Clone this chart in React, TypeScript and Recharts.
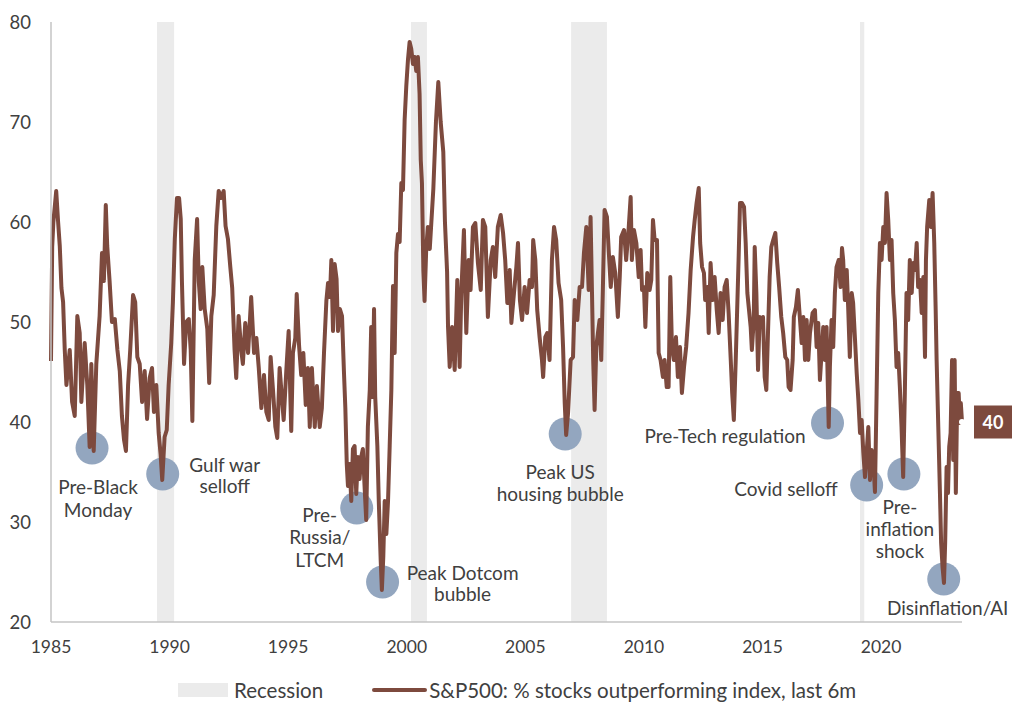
import React from 'react';
import { LineChart, Line, Scatter, XAxis, YAxis, ReferenceArea, Legend } from 'recharts';

// ---------- DATA ----------
const dates = [
  1985.00, 1985.05, 1985.10, 1985.22, 1985.30, 1985.37, 1985.44, 1985.51, 1985.58, 1985.65,
  1985.79, 1985.89, 1986.00, 1986.11, 1986.21, 1986.28, 1986.42, 1986.53, 1986.63, 1986.70,
  1986.80, 1986.91, 1987.05, 1987.15, 1987.23, 1987.31, 1987.37, 1987.47, 1987.57, 1987.69,
  1987.80, 1987.90, 1987.99, 1988.08, 1988.16, 1988.25, 1988.34, 1988.46, 1988.55, 1988.64,
  1988.74, 1988.84, 1988.95, 1989.05, 1989.16, 1989.26, 1989.34, 1989.44, 1989.54, 1989.62,
  1989.69, 1989.79, 1989.88, 1989.96, 1990.07, 1990.14, 1990.22, 1990.31, 1990.40, 1990.47,
  1990.52, 1990.61, 1990.70, 1990.81, 1990.89, 1990.96, 1991.06, 1991.16, 1991.23, 1991.31,
  1991.38, 1991.48, 1991.59, 1991.67, 1991.76, 1991.86, 1991.97, 1992.07, 1992.18, 1992.28,
  1992.36, 1992.46, 1992.56, 1992.64, 1992.74, 1992.81, 1992.91, 1993.02,
  1993.09, 1993.19, 1993.31, 1993.44, 1993.56, 1993.66, 1993.76, 1993.87, 1993.98, 1994.08,
  1994.18, 1994.26, 1994.36, 1994.46, 1994.54, 1994.64, 1994.71, 1994.81, 1994.92, 1995.02,
  1995.13, 1995.20, 1995.30, 1995.36, 1995.46, 1995.55, 1995.64, 1995.74, 1995.83, 1995.91,
  1996.00, 1996.12, 1996.21, 1996.33, 1996.42, 1996.51, 1996.61, 1996.68, 1996.76, 1996.82,
  1996.89, 1996.96, 1997.04, 1997.10, 1997.18, 1997.27, 1997.35, 1997.41, 1997.47, 1997.52,
  1997.59, 1997.66, 1997.73, 1997.80, 1997.87, 1997.94, 1998.01, 1998.08, 1998.15, 1998.22,
  1998.29, 1998.36, 1998.44, 1998.50, 1998.56, 1998.62, 1998.67, 1998.76, 1998.82, 1998.90,
  1998.95, 1999.01, 1999.07, 1999.14, 1999.21, 1999.28, 1999.35, 1999.42, 1999.49, 1999.56,
  1999.63, 1999.70, 1999.77, 1999.84, 1999.91, 1999.98, 2000.05, 2000.12, 2000.19, 2000.26,
  2000.33, 2000.40, 2000.47, 2000.54, 2000.59, 2000.64, 2000.70, 2000.75, 2000.82, 2000.89,
  2000.97, 2001.12, 2001.23, 2001.33, 2001.43, 2001.54, 2001.61, 2001.70,
  2001.74, 2001.81, 2001.91, 2002.02, 2002.13, 2002.23, 2002.30, 2002.41, 2002.51, 2002.61,
  2002.69, 2002.79, 2002.89, 2003.00, 2003.12, 2003.21, 2003.31, 2003.42, 2003.54, 2003.63,
  2003.73, 2003.84, 2003.96, 2004.06, 2004.15, 2004.24, 2004.34, 2004.41, 2004.52, 2004.62,
  2004.69, 2004.77, 2004.86, 2004.97, 2005.07, 2005.18, 2005.28, 2005.33, 2005.42, 2005.50,
  2005.60, 2005.70, 2005.75, 2005.84, 2005.92, 2006.02, 2006.12, 2006.21, 2006.30, 2006.40,
  2006.51, 2006.59, 2006.66, 2006.72, 2006.80, 2006.91, 2007.01, 2007.08, 2007.19, 2007.29,
  2007.39, 2007.47, 2007.57, 2007.67, 2007.75, 2007.81, 2007.86, 2007.92, 2007.99, 2008.06,
  2008.13, 2008.20, 2008.27, 2008.34, 2008.44, 2008.52, 2008.60, 2008.69, 2008.79,
  2008.90, 2008.98, 2009.04, 2009.16, 2009.25, 2009.36, 2009.44, 2009.49, 2009.58, 2009.68,
  2009.78, 2009.86, 2009.92, 2010.00, 2010.06, 2010.14, 2010.24, 2010.31, 2010.38, 2010.45,
  2010.55, 2010.62, 2010.70, 2010.80, 2010.87, 2010.96, 2011.04, 2011.11, 2011.18, 2011.26,
  2011.35, 2011.43, 2011.52, 2011.60, 2011.69, 2011.78, 2011.88, 2011.97, 2012.07, 2012.14,
  2012.22, 2012.31, 2012.37, 2012.45, 2012.53, 2012.58, 2012.67, 2012.73, 2012.81, 2012.90,
  2012.98, 2013.07, 2013.15, 2013.23, 2013.32, 2013.40, 2013.49, 2013.57, 2013.66, 2013.72,
  2013.79, 2013.87, 2013.93, 2013.99, 2014.05, 2014.13, 2014.22, 2014.29, 2014.36, 2014.43,
  2014.50, 2014.55, 2014.63, 2014.67, 2014.74, 2014.81, 2014.88, 2014.95, 2015.02, 2015.09,
  2015.16, 2015.23, 2015.30, 2015.37, 2015.45, 2015.54, 2015.62, 2015.70, 2015.79, 2015.87,
  2015.96, 2016.04, 2016.10, 2016.18, 2016.27, 2016.32, 2016.41, 2016.49,
  2016.65, 2016.72, 2016.79, 2016.86, 2016.93, 2017.00, 2017.11, 2017.21, 2017.28, 2017.35,
  2017.42, 2017.49, 2017.56, 2017.63, 2017.70, 2017.79, 2017.84, 2017.91, 2017.98, 2018.05,
  2018.12, 2018.21, 2018.29, 2018.35, 2018.40, 2018.47, 2018.55, 2018.61, 2018.68, 2018.76,
  2018.82, 2018.90, 2018.97, 2019.04, 2019.11, 2019.18, 2019.25, 2019.32, 2019.39, 2019.46,
  2019.53, 2019.60, 2019.67, 2019.74, 2019.81, 2019.88, 2019.95, 2020.02, 2020.09, 2020.16,
  2020.23, 2020.30, 2020.37, 2020.44, 2020.51, 2020.58, 2020.65, 2020.72, 2020.79, 2020.86,
  2020.93, 2021.00, 2021.07, 2021.14, 2021.21, 2021.29, 2021.35, 2021.43, 2021.50, 2021.56,
  2021.64, 2021.71, 2021.78, 2021.85, 2021.89, 2021.94, 2022.03, 2022.10, 2022.17, 2022.24,
  2022.30, 2022.34, 2022.41, 2022.48, 2022.53, 2022.59, 2022.65, 2022.70, 2022.76, 2022.82,
  2022.87, 2022.93, 2022.99, 2023.04, 2023.10, 2023.15, 2023.21, 2023.27, 2023.32, 2023.36,
  2023.41,
];

const values = [
  46.1, 57.5, 60.0, 63.1, 60.0, 57.6, 53.4, 52.0, 47.2, 43.7,
  47.2, 42.0, 40.6, 50.6, 48.9, 42.0, 47.9, 43.7, 37.5, 45.8,
  37.1, 45.8, 50.6, 56.9, 54.1, 61.7, 57.6, 54.1, 50.0, 50.3,
  47.2, 45.1, 40.6, 38.2, 37.1, 43.7, 47.2, 52.7, 52.0, 46.5,
  45.8, 42.0, 45.1, 40.3, 44.4, 45.4, 41.0, 43.7, 38.9, 36.8,
  34.2, 38.5, 39.2, 43.7, 47.9, 52.0, 58.3, 62.4, 62.4, 60.3,
  54.1, 45.8, 50.0, 50.3, 47.2, 40.1, 56.2, 60.3, 54.1, 51.3,
  55.5, 51.3, 49.3, 43.9, 50.6, 52.7, 59.6, 63.1, 62.4, 63.1,
  59.6, 58.3, 55.5, 53.4, 47.2, 44.4, 50.6, 47.2,
  45.8, 49.9, 46.9, 52.5, 46.9, 48.4, 45.4, 41.4, 44.7, 41.0,
  40.2, 46.5, 43.2, 39.5, 38.4, 45.4, 43.2, 40.2, 45.1, 49.1,
  39.1, 46.9, 48.4, 52.8, 47.6, 44.7, 46.9, 41.7, 45.4, 39.5,
  45.4, 39.5, 43.6, 39.5, 41.4, 46.9, 52.1, 53.9, 52.5, 56.2,
  49.1, 55.8, 54.3, 49.1, 51.3, 50.6, 45.1, 41.4, 35.8, 33.6,
  35.8, 32.1, 37.3, 37.6, 32.8, 36.5, 34.3, 36.5, 37.3, 33.6,
  30.2, 39.5, 43.2, 49.5, 42.5, 51.3, 42.5, 37.6, 32.1, 26.2,
  23.2, 26.5, 32.1, 28.8, 32.1, 37.6, 43.2, 53.6, 46.9, 56.9,
  58.8, 58.0, 63.9, 63.2, 70.2, 73.6, 76.2, 78.0, 77.3, 75.8,
  76.5, 75.1, 76.5, 72.8, 66.2, 63.9, 55.1, 52.1, 57.3, 59.5,
  57.3, 63.3, 70.0, 74.0, 70.0, 67.0, 60.0, 55.0,
  49.5, 45.5, 49.5, 45.2, 54.2, 45.5, 52.9, 59.2, 48.9, 56.2,
  53.2, 59.5, 59.9, 55.9, 53.2, 60.2, 59.5, 50.5, 56.2, 57.5,
  54.5, 59.5, 60.7, 58.9, 56.2, 51.9, 55.2, 49.9, 52.9, 55.5,
  57.9, 52.2, 50.2, 53.5, 50.9, 54.2, 53.5, 58.2, 56.2, 51.2,
  48.5, 46.2, 44.5, 48.5, 48.9, 46.2, 56.2, 59.5, 58.2, 53.9,
  52.2, 47.5, 41.9, 38.7, 40.9, 46.2, 46.5, 52.2, 50.2, 53.5,
  53.5, 56.9, 59.5, 53.2, 60.5, 52.9, 46.2, 41.2, 47.5, 48.9,
  50.2, 46.2, 53.5, 61.2, 60.5, 56.9, 53.5, 56.5, 54.9,
  50.5, 54.5, 58.5, 59.2, 56.2, 59.5, 62.5, 56.2, 59.2, 57.9,
  54.5, 57.2, 53.2, 53.5, 49.5, 54.9, 53.2, 54.2, 60.2, 58.2,
  58.2, 46.9, 46.2, 44.5, 46.2, 43.5, 43.5, 54.5, 47.5, 46.2,
  48.5, 44.5, 47.5, 42.9, 45.5, 47.5, 50.9, 55.2, 58.5, 60.2,
  61.9, 63.4, 57.9, 55.5, 54.9, 52.2, 53.5, 48.9, 55.9, 52.2,
  54.5, 51.2, 48.9, 52.9, 50.2, 53.5, 54.2, 50.9, 46.2, 42.9,
  40.2, 46.2, 51.2, 56.2, 61.9, 61.9, 61.5, 57.9, 52.9, 51.2,
  49.5, 47.2, 50.2, 57.5, 52.9, 45.2, 50.5, 49.5, 50.5, 44.5,
  43.2, 48.9, 54.5, 57.5, 58.2, 58.9, 55.9, 53.5, 50.5, 48.9,
  46.5, 46.2, 43.5, 43.2, 46.2, 50.5, 51.5, 53.2,
  47.9, 50.5, 46.2, 50.2, 46.2, 48.9, 50.9, 51.2, 47.5, 49.9,
  44.2, 46.9, 49.5, 46.2, 49.5, 39.5, 45.5, 50.2, 47.5, 52.9,
  55.5, 56.2, 53.5, 57.4, 56.2, 52.2, 55.2, 51.5, 46.5, 52.9,
  51.9, 48.2, 44.9, 42.2, 38.9, 40.2, 36.9, 34.5, 36.9, 39.5,
  34.2, 37.2, 36.2, 33.0, 42.9, 52.9, 57.9, 56.2, 59.5, 57.9,
  62.9, 60.2, 56.2, 58.2, 52.9, 50.2, 45.5, 46.9, 43.5, 39.5,
  34.5, 42.9, 52.9, 50.2, 56.2, 52.9, 55.9, 55.2, 57.9, 53.5,
  54.2, 50.9, 54.5, 46.5, 56.2, 59.5, 62.2, 59.5, 62.9, 57.9,
  51.2, 46.2, 39.5, 32.9, 27.9, 25.5, 23.9, 27.9, 35.5, 32.9,
  37.5, 38.9, 46.2, 36.2, 46.2, 32.9, 42.9, 42.9, 39.9, 41.9,
  40.0,
];

const recessionStarts = [1989.47, 2000.18, 2006.93, 2019.11];
const recessionEnds = [1990.19, 2000.85, 2008.44, 2019.29];

const markDates = [1986.73, 1989.71, 1997.89, 1998.98, 2006.68, 2017.74, 2019.39, 2020.96, 2022.64];
const markValues = [37.4, 34.8, 31.4, 24.0, 38.8, 39.9, 33.7, 34.8, 24.3];
const markLabels = [
  ['Pre-Black', 'Monday'],
  ['Gulf war', 'selloff'],
  ['Pre-', 'Russia/', 'LTCM'],
  ['Peak Dotcom', 'bubble'],
  ['Peak US', 'housing bubble'],
  ['Pre-Tech regulation'],
  ['Covid selloff'],
  ['Pre-', 'inflation', 'shock'],
  ['Disinflation/AI'],
];

const xTicks = [1985, 1990, 1995, 2000, 2005, 2010, 2015, 2020];
const yTicks = [20, 30, 40, 50, 60, 70, 80];
const latestDate = 2023.41;
const latestValue = 40;
const seriesName = 'S&P500: % stocks outperforming index, last 6m';
const recessionName = 'Recession';

// ---------- STYLE / LAYOUT ----------
const FONT = 'Lato, "Noto Sans", sans-serif';
const TEXT = '#404040';
const LINE = '#7d4a3e';
const BAND = '#ebebeb';
const MARK = '#93a6bf';

const labelLayout = [
  { dx: 6, dy: 38, lh: 23, anchor: 'middle' },
  { dx: 62, dy: -10, lh: 21, anchor: 'middle' },
  { dx: -37, dy: 6, lh: 22.5, anchor: 'middle' },
  { dx: 80, dy: -10, lh: 21, anchor: 'middle' },
  { dx: -5, dy: 37, lh: 22, anchor: 'middle' },
  { dx: -22, dy: 12, lh: 22, anchor: 'end' },
  { dx: -29, dy: 3, lh: 22, anchor: 'end' },
  { dx: -4, dy: 32, lh: 22, anchor: 'middle' },
  { dx: 4, dy: 28, lh: 22, anchor: 'middle' },
];

const seriesData = dates.map((d, i) => ({ year: d, v: values[i] }));
const markData = markDates.map((d, i) => ({ year: d, m: markValues[i], idx: i }));
const latestData = [{ year: latestDate, latest: latestValue }];

const MarkShape = (props: any) => {
  const { cx, cy, payload } = props;
  const index = payload.idx;
  const lay = labelLayout[index];
  return (
    <g>
      <circle cx={cx} cy={cy} r={16.5} fill={MARK} />
      {markLabels[index].map((t, i) => (
        <text
          key={i}
          x={cx + lay.dx}
          y={cy + lay.dy + i * lay.lh}
          textAnchor={lay.anchor as any}
          dominantBaseline="central"
          fontSize={19}
          fontFamily={FONT}
          fill={TEXT}
        >
          {t}
        </text>
      ))}
    </g>
  );
};

const LatestTick = (props: any) => {
  const { x, y, payload } = props;
  return (
    <g>
      <rect x={x} y={y - 16.5} width={38} height={33} fill={LINE} />
      <text x={x + 19} y={y} textAnchor="middle" dominantBaseline="central" fontSize={18} fontWeight={700} fontFamily={FONT} fill="#ffffff">
        {payload.value}
      </text>
    </g>
  );
};

const LegendContent = () => (
  <div style={{ display: 'flex', alignItems: 'center', paddingLeft: 170, height: 36, fontFamily: FONT, fontSize: 20.5, color: TEXT }}>
    <span style={{ display: 'inline-block', width: 50, height: 14, background: BAND, marginRight: 6 }} />
    <span>{recessionName}</span>
    <span style={{ display: 'inline-block', width: 55, height: 4, borderRadius: 2, background: LINE, marginLeft: 49, marginRight: 2 }} />
    <span>{seriesName}</span>
  </div>
);

export default function App() {
  return (
    <div style={{ width: 1008, height: 710, background: '#fff' }}>
      <LineChart width={1008} height={710} margin={{ top: 14, right: 0, left: 0, bottom: 10 }}>
        <XAxis
          type="number"
          dataKey="year"
          domain={[1985, 2023.41]}
          ticks={xTicks}
          tickLine={false}
          tickSize={0}
          tickMargin={19}
          height={50}
          axisLine={{ stroke: '#c4c4c4', strokeWidth: 1.5 }}
          tick={{ fontSize: 17.5, fill: TEXT, fontFamily: FONT }}
        />
        <YAxis
          yAxisId="left"
          type="number"
          domain={[20, 80]}
          ticks={yTicks}
          width={43}
          tickLine={false}
          tickSize={0}
          tickMargin={20}
          axisLine={{ stroke: '#c4c4c4', strokeWidth: 1.5 }}
          tick={{ fontSize: 18.5, fill: TEXT, fontFamily: FONT }}
        />
        <YAxis
          yAxisId="right"
          orientation="right"
          type="number"
          domain={[20, 80]}
          ticks={[latestValue]}
          width={54}
          tickLine={false}
          tickSize={0}
          tickMargin={12}
          axisLine={false}
          tick={<LatestTick />}
        />
        {recessionStarts.map((s, i) => (
          <ReferenceArea key={`rec-${i}`} yAxisId="left" x1={s} x2={recessionEnds[i]} y1={20} y2={80} fill={BAND} fillOpacity={1} stroke="none" />
        ))}
        <Scatter
          yAxisId="left"
          data={markData}
          dataKey="m"
          shape={<MarkShape />}
          legendType="none"
          isAnimationActive={false}
          zIndex={100}
        />
        <Line
          yAxisId="right"
          data={latestData}
          dataKey="latest"
          stroke="none"
          dot={false}
          activeDot={false}
          legendType="none"
          isAnimationActive={false}
        />
        <Line
          yAxisId="left"
          data={seriesData}
          dataKey="v"
          type="linear"
          stroke={LINE}
          strokeWidth={4}
          strokeLinejoin="round"
          dot={false}
          activeDot={false}
          isAnimationActive={false}
        />
        <Legend verticalAlign="bottom" height={36} content={<LegendContent />} wrapperStyle={{ left: 0, width: 1008 }} />
      </LineChart>
    </div>
  );
}
